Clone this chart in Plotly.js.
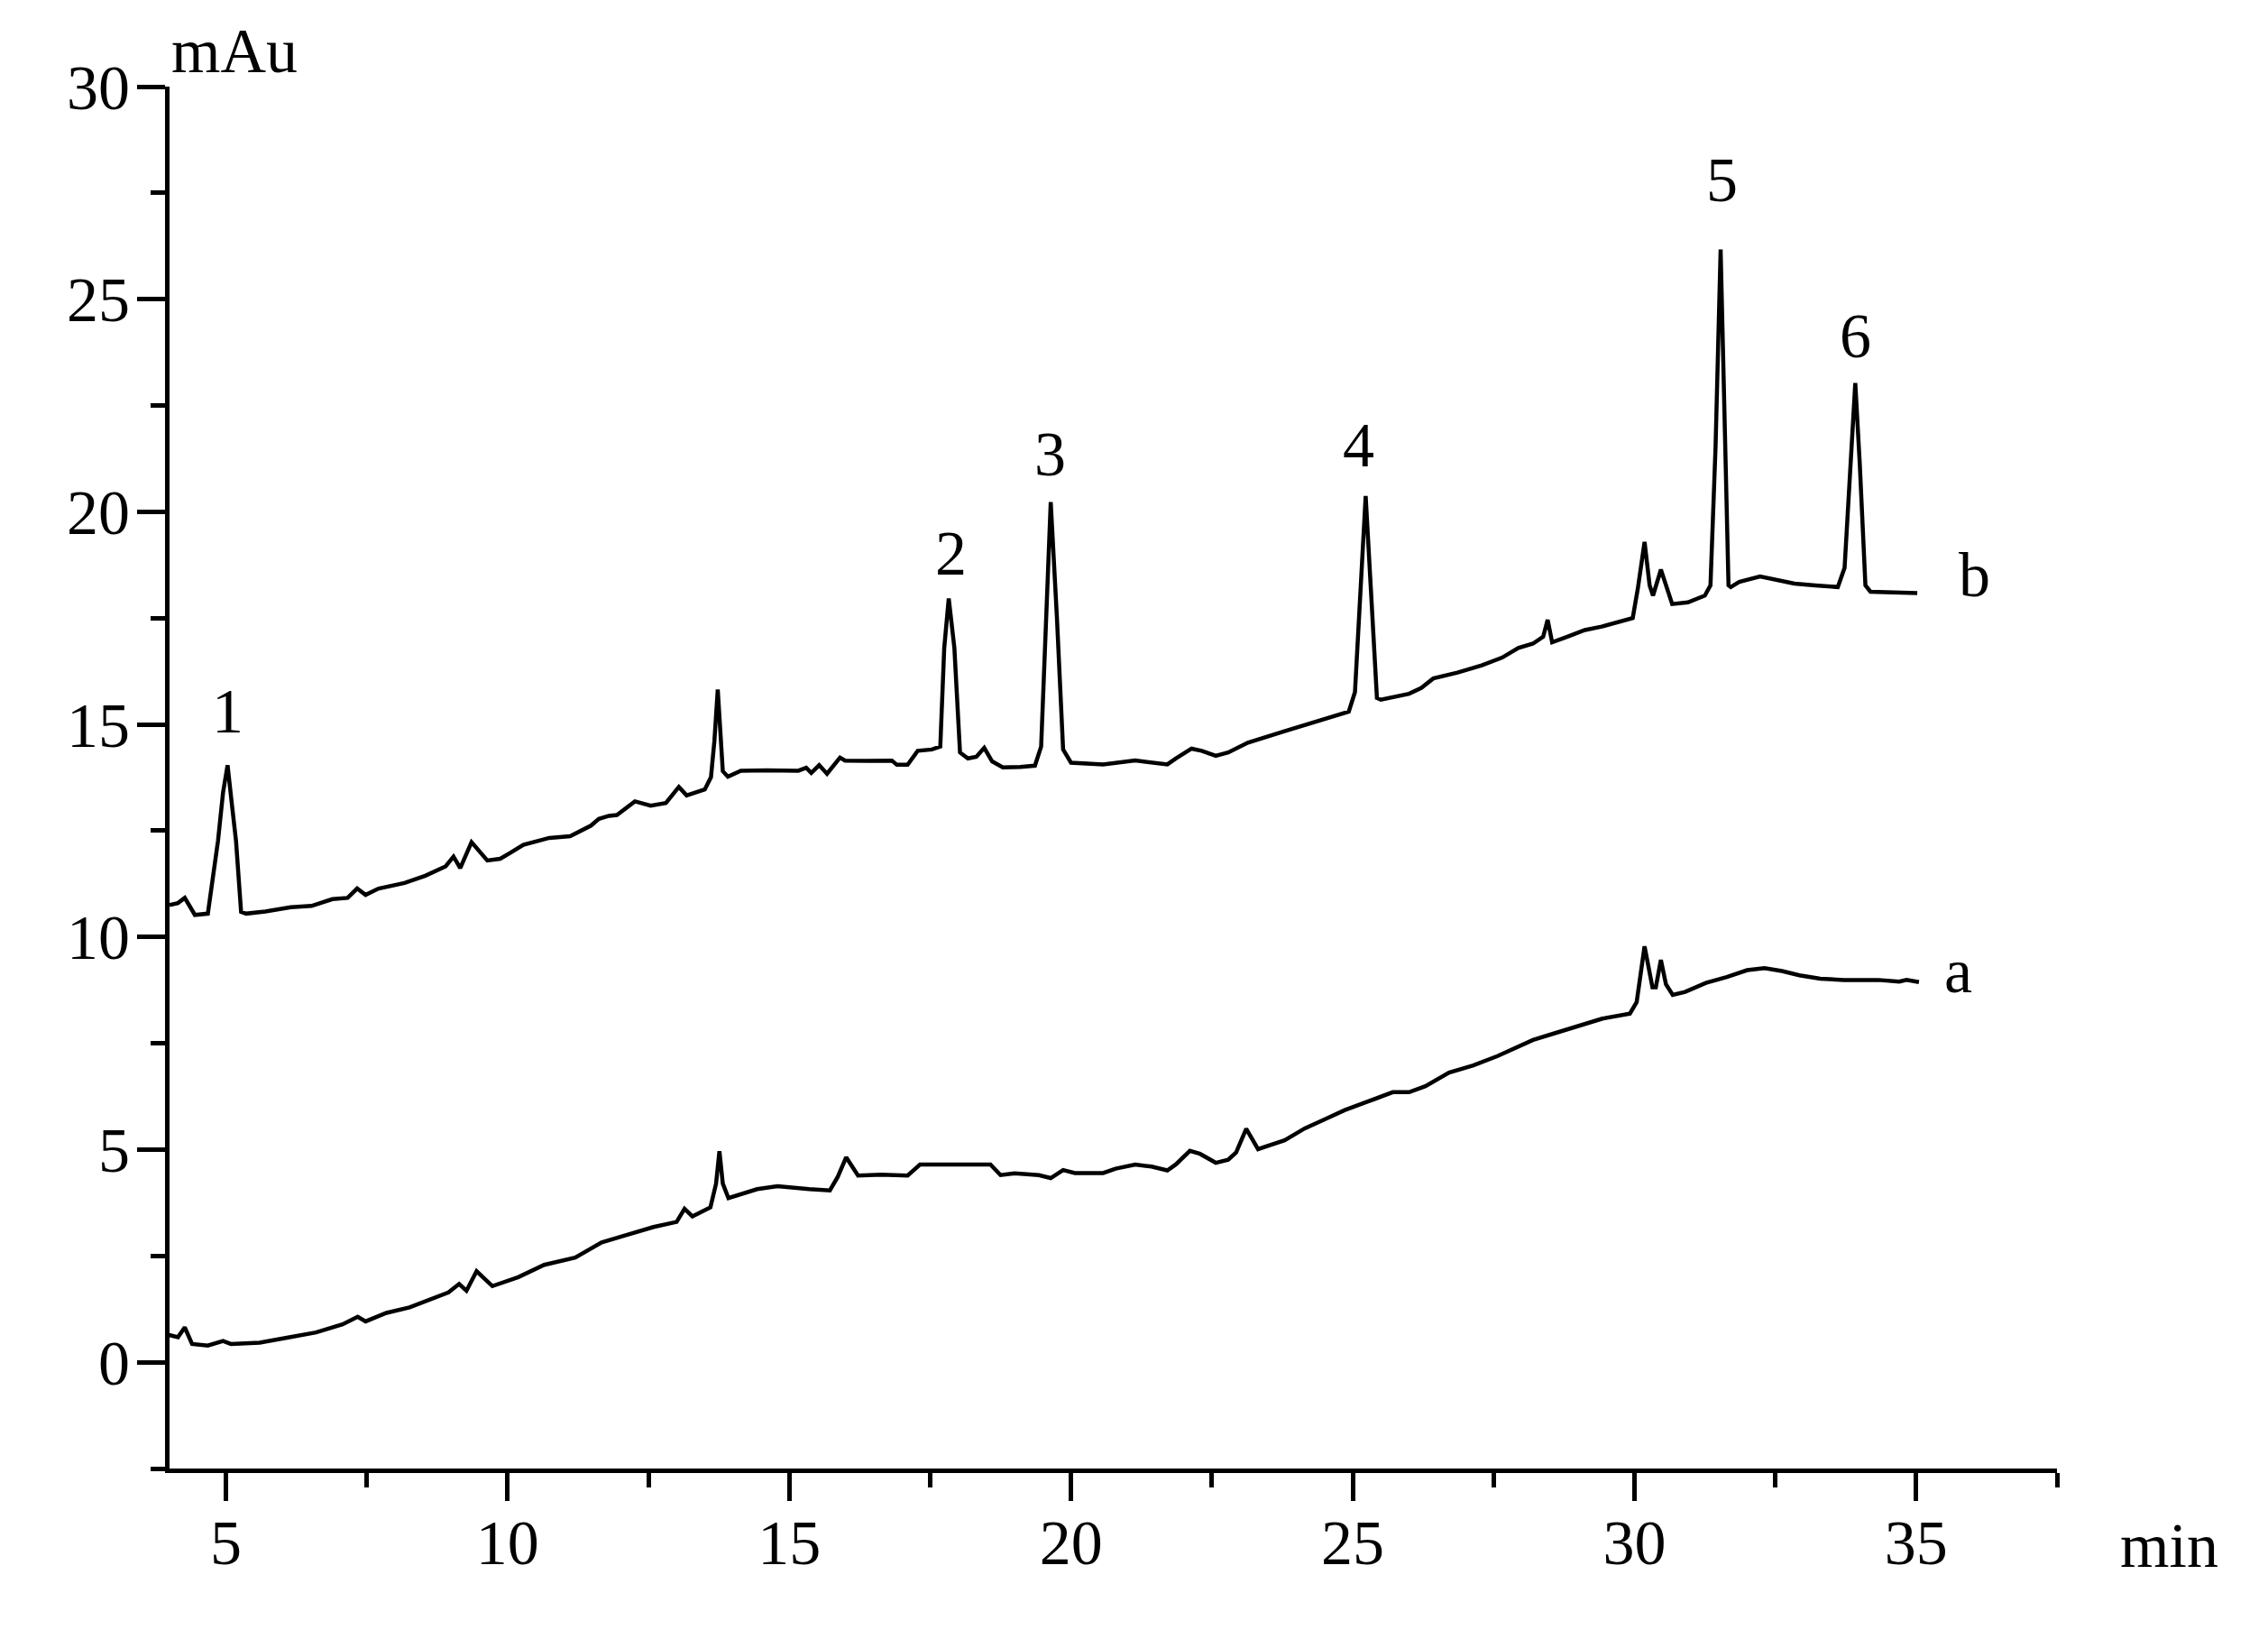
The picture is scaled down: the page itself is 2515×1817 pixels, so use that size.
<!DOCTYPE html>
<html>
<head>
<meta charset="utf-8">
<script src="https://cdn.plot.ly/plotly-3.0.1.min.js"></script>
<style>html,body{margin:0;padding:0;background:#fff;}#chart{width:2515px;height:1817px;}</style>
</head>
<body>
<div id="chart"></div>
<script>
// Chromatogram a (lower trace): retention time (min) and absorbance (mAu)
const timeA = [3.99, 4.15, 4.27, 4.40, 4.68, 4.95, 5.09, 5.6, 6.15, 6.6, 7.07, 7.34, 7.48, 7.85, 8.26, 8.63, 8.95, 9.14, 9.27, 9.45, 9.73, 10.19, 10.65, 11.2, 11.67, 12.03, 12.59, 13.0, 13.14, 13.28, 13.6, 13.7, 13.76, 13.82, 13.92, 14.43, 14.79, 15.35, 15.72, 15.86, 16.01, 16.22, 16.63, 17.1, 17.32, 18.57, 18.75, 19.0, 19.43, 19.64, 19.86, 20.07, 20.57, 20.79, 21.14, 21.43, 21.71, 21.86, 22.11, 22.29, 22.57, 22.79, 22.93, 23.11, 23.32, 23.79, 24.15, 24.5, 24.86, 25.29, 25.71, 26.0, 26.29, 26.71, 27.14, 27.57, 27.79, 28.2, 28.57, 29.06, 29.43, 29.92, 30.04, 30.18, 30.32, 30.38, 30.47, 30.56, 30.68, 30.9, 31.27, 31.64, 32.0, 32.31, 32.62, 32.93, 33.3, 33.72, 34.33, 34.7, 34.83, 35.05];
const signalA = [0.64, 0.59, 0.82, 0.43, 0.39, 0.5, 0.43, 0.46, 0.59, 0.7, 0.89, 1.07, 0.96, 1.16, 1.29, 1.49, 1.64, 1.84, 1.68, 2.14, 1.79, 2.0, 2.29, 2.46, 2.82, 2.96, 3.18, 3.3, 3.61, 3.43, 3.64, 4.2, 4.96, 4.2, 3.86, 4.07, 4.14, 4.07, 4.04, 4.36, 4.82, 4.39, 4.41, 4.39, 4.65, 4.65, 4.4, 4.44, 4.4, 4.33, 4.52, 4.45, 4.45, 4.55, 4.65, 4.6, 4.51, 4.65, 4.97, 4.9, 4.69, 4.76, 4.93, 5.49, 5.01, 5.22, 5.5, 5.71, 5.93, 6.14, 6.35, 6.35, 6.49, 6.81, 6.98, 7.2, 7.34, 7.58, 7.73, 7.94, 8.08, 8.2, 8.47, 9.78, 8.82, 8.82, 9.46, 8.89, 8.64, 8.71, 8.92, 9.06, 9.22, 9.27, 9.2, 9.1, 9.02, 8.99, 8.99, 8.95, 8.99, 8.94];

// Chromatogram b (upper trace)
const timeB = [4.0, 4.15, 4.27, 4.45, 4.68, 4.86, 4.95, 5.03, 5.1, 5.18, 5.27, 5.36, 5.7, 6.15, 6.52, 6.89, 7.16, 7.33, 7.48, 7.71, 8.17, 8.54, 8.9, 9.04, 9.16, 9.36, 9.64, 9.87, 10.05, 10.28, 10.74, 11.11, 11.48, 11.62, 11.8, 11.94, 12.26, 12.54, 12.81, 13.04, 13.18, 13.5, 13.61, 13.67, 13.73, 13.78, 13.82, 13.91, 14.14, 14.6, 15.16, 15.3, 15.39, 15.53, 15.67, 15.9, 15.99, 16.4, 16.82, 16.91, 17.1, 17.28, 17.53, 17.68, 17.75, 17.83, 17.93, 18.03, 18.17, 18.32, 18.46, 18.6, 18.79, 19.1, 19.36, 19.47, 19.56, 19.64, 19.75, 19.86, 20.0, 20.57, 21.14, 21.71, 21.86, 22.14, 22.32, 22.57, 22.79, 23.14, 23.79, 24.15, 24.5, 24.93, 25.04, 25.15, 25.23, 25.32, 25.43, 25.5, 26.0, 26.22, 26.43, 26.86, 27.29, 27.65, 27.94, 28.2, 28.38, 28.46, 28.54, 28.81, 29.12, 29.42, 29.79, 29.97, 30.06, 30.18, 30.27, 30.33, 30.47, 30.58, 30.67, 30.95, 31.25, 31.35, 31.44, 31.53, 31.61, 31.67, 31.71, 31.86, 32.23, 32.6, 32.84, 33.21, 33.61, 33.73, 33.83, 33.92, 34.0, 34.1, 34.19, 34.62, 35.02];
const signalB = [10.75, 10.8, 10.92, 10.52, 10.55, 12.26, 13.4, 14.04, 13.2, 12.26, 10.59, 10.55, 10.6, 10.7, 10.73, 10.89, 10.92, 11.14, 10.99, 11.14, 11.27, 11.44, 11.66, 11.89, 11.62, 12.23, 11.8, 11.84, 11.98, 12.17, 12.33, 12.37, 12.62, 12.78, 12.85, 12.87, 13.19, 13.09, 13.15, 13.53, 13.33, 13.47, 13.76, 14.6, 15.82, 14.6, 13.9, 13.77, 13.91, 13.92, 13.91, 13.98, 13.86, 14.04, 13.84, 14.22, 14.15, 14.14, 14.15, 14.05, 14.05, 14.38, 14.41, 14.48, 16.8, 17.96, 16.8, 14.34, 14.2, 14.24, 14.45, 14.13, 13.99, 14.0, 14.03, 14.48, 17.52, 20.23, 17.52, 14.41, 14.1, 14.06, 14.15, 14.06, 14.2, 14.43, 14.38, 14.26, 14.34, 14.57, 14.84, 14.98, 15.12, 15.3, 15.76, 18.24, 20.37, 18.24, 15.62, 15.58, 15.72, 15.86, 16.08, 16.22, 16.39, 16.57, 16.8, 16.9, 17.06, 17.46, 16.93, 17.06, 17.22, 17.3, 17.42, 17.5, 18.19, 19.29, 18.27, 18.03, 18.64, 18.19, 17.83, 17.87, 18.03, 18.27, 21.53, 26.17, 21.53, 18.27, 18.23, 18.35, 18.48, 18.39, 18.31, 18.27, 18.23, 18.68, 21.12, 23.03, 21.12, 18.27, 18.12, 18.11, 18.09];

// Peak number labels
const peakLabels = ['1', '2', '3', '4', '5', '6'];
const peakLabelX = [5.03, 17.87, 19.63, 25.1, 31.56, 33.93];
const peakLabelY = [15.31, 19.02, 21.35, 21.56, 27.8, 24.14];

// Trace name labels
const traceLabels = ['a', 'b'];
const traceLabelX = [35.74, 36.04];
const traceLabelY = [9.21, 18.51];

const xTickVals = [5, 10, 15, 20, 25, 30, 35];
const yTickVals = [0, 5, 10, 15, 20, 25, 30];

const FONT = 'Liberation Serif, Times New Roman, serif';

const lineStyle = {color: '#000', width: 4.5};
const data = [
  {x: timeA, y: signalA, type: 'scatter', mode: 'lines', line: lineStyle, hoverinfo: 'skip'},
  {x: timeB, y: signalB, type: 'scatter', mode: 'lines', line: lineStyle, hoverinfo: 'skip'}
];

const annotations = [];
peakLabels.forEach((t, i) => annotations.push({
  x: peakLabelX[i], y: peakLabelY[i], xref: 'x', yref: 'y', text: t, showarrow: false,
  xanchor: 'center', yanchor: 'middle', font: {family: FONT, size: 70, color: '#000'}
}));
traceLabels.forEach((t, i) => annotations.push({
  x: traceLabelX[i], y: traceLabelY[i], xref: 'x', yref: 'y', text: t, showarrow: false,
  xanchor: 'center', yanchor: 'middle', font: {family: FONT, size: 70, color: '#000'}
}));
annotations.push({x: 0, y: 1.026, xref: 'paper', yref: 'paper', text: 'mAu', showarrow: false,
  xanchor: 'left', yanchor: 'middle', font: {family: FONT, size: 70, color: '#000'}});
annotations.push({x: 1.0597, y: -0.0555, xref: 'paper', yref: 'paper', text: 'min', showarrow: false,
  xanchor: 'center', yanchor: 'middle', font: {family: FONT, size: 70, color: '#000'}});

const layout = {
  width: 2515, height: 1817,
  margin: {l: 188, r: 234, t: 96, b: 189, pad: 0},
  paper_bgcolor: '#fff', plot_bgcolor: '#fff',
  showlegend: false,
  font: {family: FONT, size: 70, color: '#000'},
  xaxis: {
    range: [4, 37.5], showgrid: false, zeroline: false,
    showline: true, linecolor: '#000', linewidth: 5,
    ticks: 'outside', ticklen: 31, tickwidth: 5, tickcolor: '#000',
    tickmode: 'array', tickvals: xTickVals, ticktext: xTickVals.map(String),
    tickfont: {family: FONT, size: 70, color: '#000'},
    ticklabelstandoff: -14,
    minor: {ticks: 'outside', ticklen: 16, tickwidth: 5, tickcolor: '#000', dtick: 2.5, tick0: 0, showgrid: false}
  },
  yaxis: {
    range: [-2.5, 30], showgrid: false, zeroline: false,
    showline: true, linecolor: '#000', linewidth: 5,
    ticks: 'outside', ticklen: 31, tickwidth: 5, tickcolor: '#000',
    tickmode: 'array', tickvals: yTickVals, ticktext: yTickVals.map(String),
    tickfont: {family: FONT, size: 70, color: '#000'},
    ticklabelstandoff: -6,
    minor: {ticks: 'outside', ticklen: 16, tickwidth: 5, tickcolor: '#000', dtick: 2.5, tick0: 0, showgrid: false}
  },
  annotations: annotations
};

Plotly.newPlot('chart', data, layout, {staticPlot: true, displayModeBar: false});
</script>
</body>
</html>
